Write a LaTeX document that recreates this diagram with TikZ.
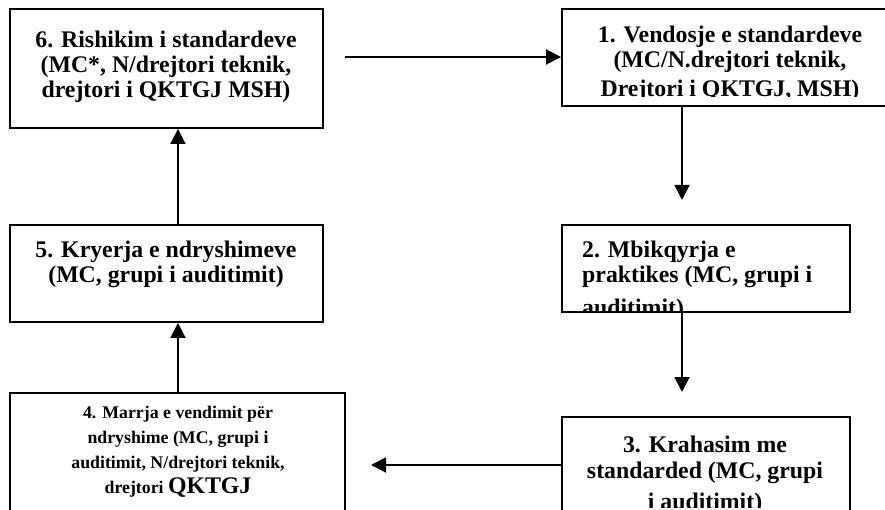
\documentclass[tikz,border=0pt]{standalone}
\usepackage{fontspec}
\setmainfont{Liberation Serif}
\usetikzlibrary{arrows.meta}
\begin{document}
\begin{tikzpicture}[x=1pt,y=-1pt,
  box/.style={draw, line width=1.9pt, inner sep=0pt},
  arr/.style={line width=1.9pt, -{Triangle[length=15pt,width=15pt]}},
  txt/.style={inner sep=0pt, anchor=base, font=\bfseries\fontsize{23.8}{25}\selectfont},
  txl/.style={txt, anchor=base west},
  txs/.style={txt, font=\bfseries\fontsize{17.8}{25}\selectfont}]
\useasboundingbox (0,0) rectangle (885,510);
% boxes
\node[box, minimum width=313pt, minimum height=119pt] (b6) at (166.5,68.5) {};
\node[box, minimum width=338pt, minimum height=97pt] (b1) at (731,57.5) {};
\node[box, minimum width=288pt, minimum height=87pt] (b2) at (706,268.5) {};
\node[box, minimum width=288pt, minimum height=113pt] (b3) at (706,473.5) {};
\node[box, minimum width=335pt, minimum height=137pt] (b4) at (177.5,461.5) {};
\node[box, minimum width=313pt, minimum height=97pt] (b5) at (166.5,273.5) {};
% texts
\node[txt] (t61) at (166,48) {6. Rishikim i standardeve};
\node[txt] (t62) at (166,73) {(MC*, N/drejtori teknik,};
\node[txt] (t63) at (166,98) {drejtori i QKTGJ MSH)};
\begin{scope}
  \clip (562,9) rectangle (900,97);
  \node[txt] (t11) at (730,43) {1. Vendosje e standardeve};
  \node[txt] (t12) at (730,68) {(MC/N.drejtori teknik,};
  \node[txt] (t13) at (730,97) {Drejtori i QKTGJ, MSH)};
\end{scope}
\begin{scope}
  \clip (562,225) rectangle (850,310);
  \node[txl] (t21) at (582,258) {2. Mbikqyrja e};
  \node[txl] (t22) at (582,283) {praktikes (MC, grupi i};
  \node[txl] (t23) at (582,316) {auditimit)};
\end{scope}
\begin{scope}
  \clip (562,417) rectangle (850,507);
  \node[txt] (t31) at (705,452) {3. Krahasim me};
  \node[txt] (t32) at (705,478) {standarded (MC, grupi};
  \node[txt] (t33) at (705,509) {i auditimit)};
\end{scope}
\node[txs] (t41) at (178,418) {4. Marrja e vendimit për};
\node[txs] (t42) at (178,443) {ndryshime (MC, grupi i};
\node[txs] (t43) at (178,468) {auditimit, N/drejtori teknik,};
\node[txs] (t44) at (178,493) {drejtori {\fontsize{23.8}{25}\selectfont QKTGJ}};
\node[txt] (t51) at (166,258) {5. Kryerja e ndryshimeve};
\node[txt] (t52) at (166,283) {(MC, grupi i auditimit)};
% connectors
\coordinate (s61) at (345,57);
\draw[arr] (s61) -- (s61 -| b1.west);
\coordinate (e12) at (682,200);
\draw[arr] (e12 |- b1.south) -- (e12);
\coordinate (e23) at (682,392);
\draw[arr] (e23 |- b2.south) -- (e23);
\coordinate (e34) at (371,465);
\draw[arr] (e34 -| b3.west) -- (e34);
\coordinate (x45) at (178,0);
\draw[arr] (x45 |- b4.north) -- (x45 |- b5.south);
\draw[arr] (x45 |- b5.north) -- (x45 |- b6.south);
\end{tikzpicture}
\end{document}
